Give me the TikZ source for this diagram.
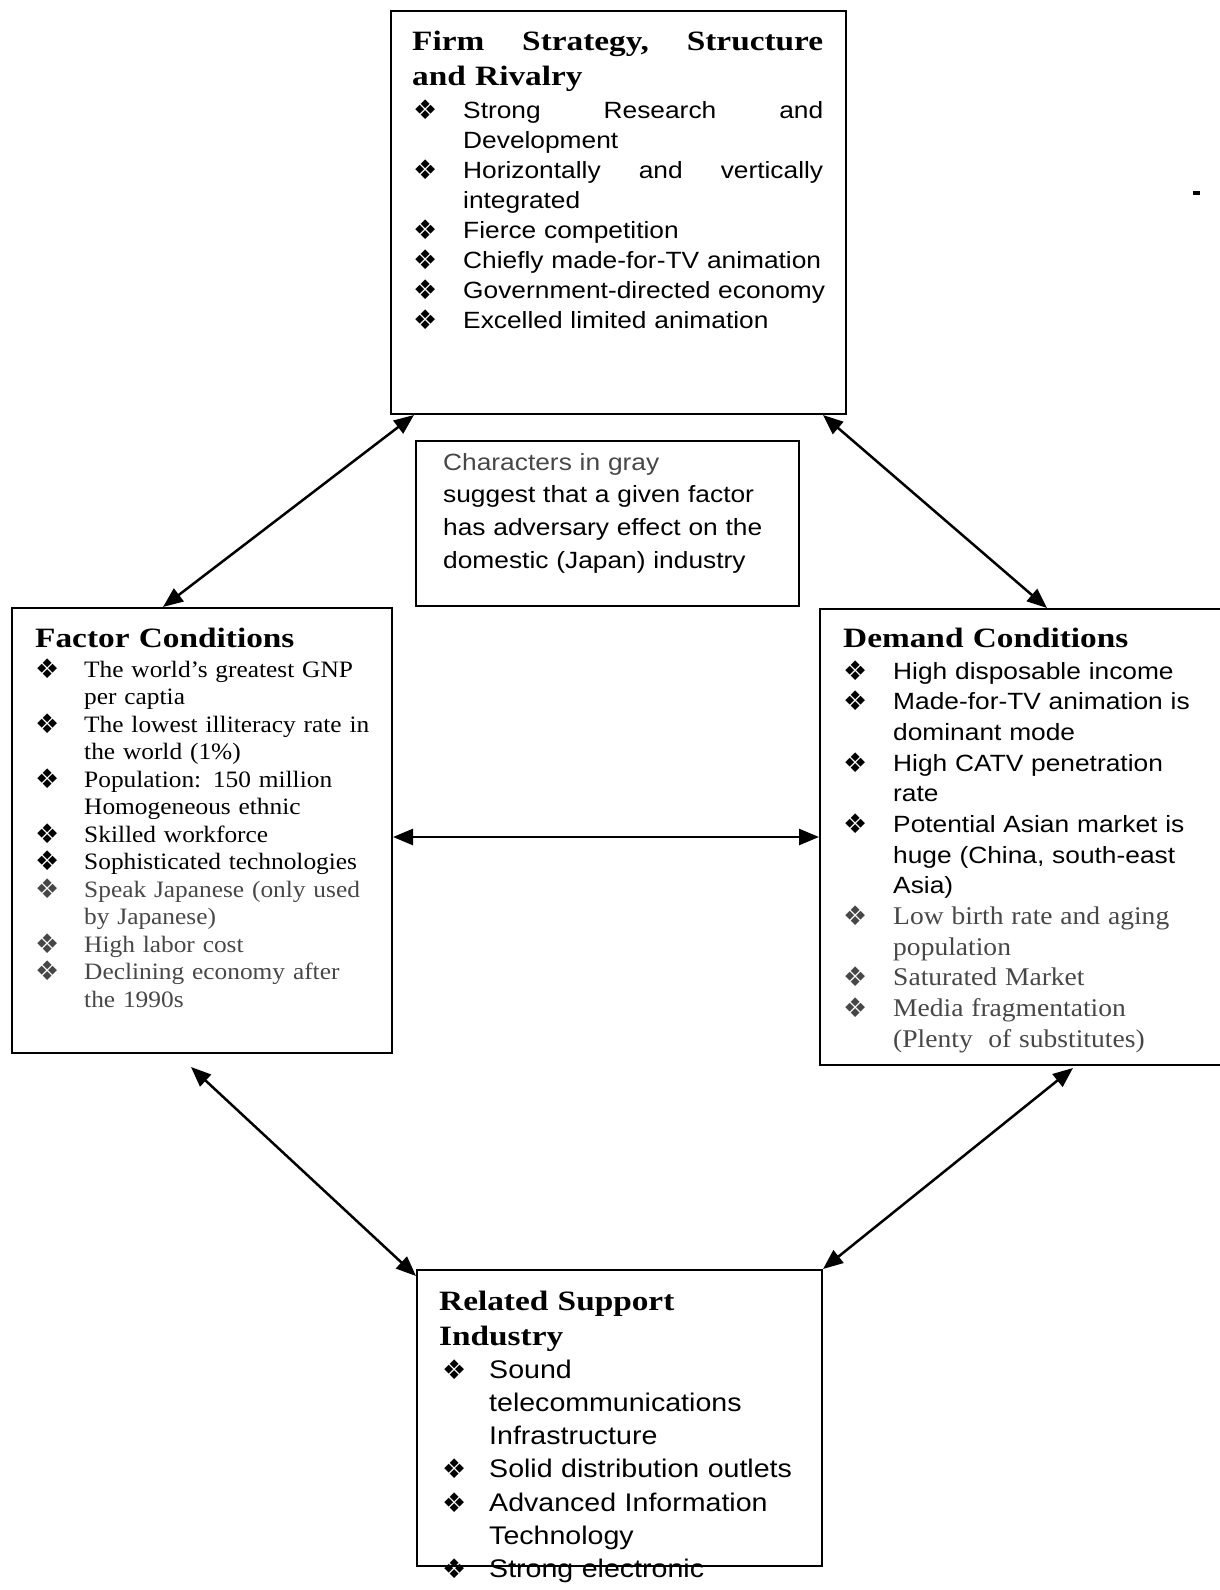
\documentclass[tikz,border=0pt]{standalone}
\usepackage{fontspec}
\setmainfont{Liberation Serif}
\newfontfamily\hdfont[FakeStretch=1.19]{Liberation Serif}
\newfontfamily\sfbody[FakeStretch=1.12]{Liberation Sans}
\newfontfamily\rmbody[FakeStretch=1.08]{Liberation Serif}
\newfontfamily\dingfont{DejaVu Sans}
\usetikzlibrary{arrows.meta}
\definecolor{gry}{gray}{0.28}
\newlength\bw
\newcommand\bul{\makebox[\bw][l]{\raisebox{-1pt}{\dingfont\fontsize{27}{27}\selectfont\char"2756}}}
\newcommand\cont{\hspace*{\bw}}
\newcommand\gl[1]{{\color{gry}#1}}
% a line whose words are spread to a given width
\newcommand\spread[2]{\hbox to #1{#2}}

\begin{document}
\begin{tikzpicture}[x=1pt,y=-1pt,
  panel/.style={draw, line width=2pt, inner sep=0pt, anchor=north west},
  txt/.style={anchor=base west, inner sep=0pt, align=left, text width=#1},
  head/.style={txt=#1, font={\hdfont\bfseries\fontsize{28}{35}\selectfont}},
  sfitems/.style={txt=#1, font={\sfbody\fontsize{23.5}{30}\selectfont}},
  link/.style={{Triangle[length=20pt,width=16pt]}-{Triangle[length=20pt,width=16pt]}, line width=2.5pt}]
\useasboundingbox (0,0) rectangle (1219,1590);

% the four Porter-diamond panels and the legend
\node[panel, minimum width=455pt, minimum height=403pt] (top) at (390,10) {};
\node[panel, minimum width=383pt, minimum height=165pt] (note) at (415,440) {};
\node[panel, minimum width=380pt, minimum height=445pt] (factor) at (11,607) {};
\node[panel, minimum width=420pt, minimum height=456pt] (demand) at (819,608) {};
\node[panel, minimum width=405pt, minimum height=296pt] (support) at (416,1269) {};

% firm strategy
\node[head=420pt] (topH) at (412,50)
  {\spread{411pt}{Firm\hfill Strategy,\hfill Structure}\\and Rivalry};
\node[sfitems=440pt] (topL) at (413,118) {\setlength\bw{50pt}%
  \bul\spread{360pt}{Strong\hfill Research\hfill and}\\
  \cont Development\\
  \bul\spread{360pt}{Horizontally\hfill and\hfill vertically}\\
  \cont integrated\\
  \bul Fierce competition\\
  \bul Chiefly made-for-TV animation\\
  \bul Government-directed economy\\
  \bul Excelled limited animation};

% legend
\node[txt=360pt, font={\sfbody\fontsize{23.5}{32.7}\selectfont}] (noteT) at (443,470)
  {\gl{Characters in gray}\\
   suggest that a given factor\\
   has adversary effect on the\\
   domestic (Japan) industry};

% factor conditions
\node[head=350pt] (factorH) at (35,647) {Factor Conditions};
\node[txt=360pt, font={\rmbody\fontsize{23.5}{27.5}\selectfont}] (factorL) at (35,677)
  {\setlength\bw{49pt}%
  \bul The world’s greatest GNP\\
  \cont per captia\\
  \bul The lowest illiteracy rate in\\
  \cont the world (1\%)\\
  \bul Population: 150 million\\
  \cont Homogeneous ethnic\\
  \bul Skilled workforce\\
  \bul Sophisticated technologies\\
  \gl{\bul Speak Japanese (only used}\\
  \gl{\cont by Japanese)}\\
  \gl{\bul High labor cost}\\
  \gl{\bul Declining economy after}\\
  \gl{\cont the 1990s}};

% demand conditions
\node[head=360pt] (demandH) at (843,647) {Demand Conditions};
\node[sfitems=370pt, font={\sfbody\fontsize{23.5}{30.67}\selectfont}] (demandL) at (843,679)
  {\setlength\bw{50pt}%
  \bul High disposable income\\
  \bul Made-for-TV animation is\\
  \cont dominant mode\\
  \bul High CATV penetration\\
  \cont rate\\
  \bul Potential Asian market is\\
  \cont huge (China, south-east\\
  \cont Asia)\\
  \gl{\rmbody\fontsize{25.5}{30.67}\selectfont\bul Low birth rate and aging}\\
  \gl{\rmbody\fontsize{25.5}{30.67}\selectfont\cont population}\\
  \gl{\rmbody\fontsize{25.5}{30.67}\selectfont\bul Saturated Market}\\
  \gl{\rmbody\fontsize{25.5}{30.67}\selectfont\bul Media fragmentation}\\
  \gl{\rmbody\fontsize{25.5}{30.67}\selectfont\cont (Plenty\ \ of substitutes)}};

% related support industry
\node[head=370pt] (supportH) at (439,1310) {Related Support\\Industry};
\node[txt=400pt, font={\sfbody\fontsize{25.5}{33.3}\selectfont}] (supportL) at (442,1378)
  {\setlength\bw{47pt}%
  \bul Sound\\
  \cont telecommunications\\
  \cont Infrastructure\\
  \bul Solid distribution outlets\\
  \bul Advanced Information\\
  \cont Technology\\
  \bul Strong electronic};

% two-way influences between the panels
\draw[link] ([xshift=24pt]top.south west) -- ([xshift=152pt]factor.north west);
\draw[link] ([xshift=-24pt]top.south east) -- ([xshift=228pt]demand.north west);
\draw[link] (factor.east |- demand.west) -- (demand.west);
\draw[link] ([xshift=180pt,yshift=-13pt]factor.south west) -- ([yshift=-7pt]support.north west);
\draw[link] ([xshift=254pt,yshift=-2pt]demand.south west) -- (support.north east);

% small stray mark at the right margin
\fill (1193,191) rectangle (1200,195);
\end{tikzpicture}
\end{document}
